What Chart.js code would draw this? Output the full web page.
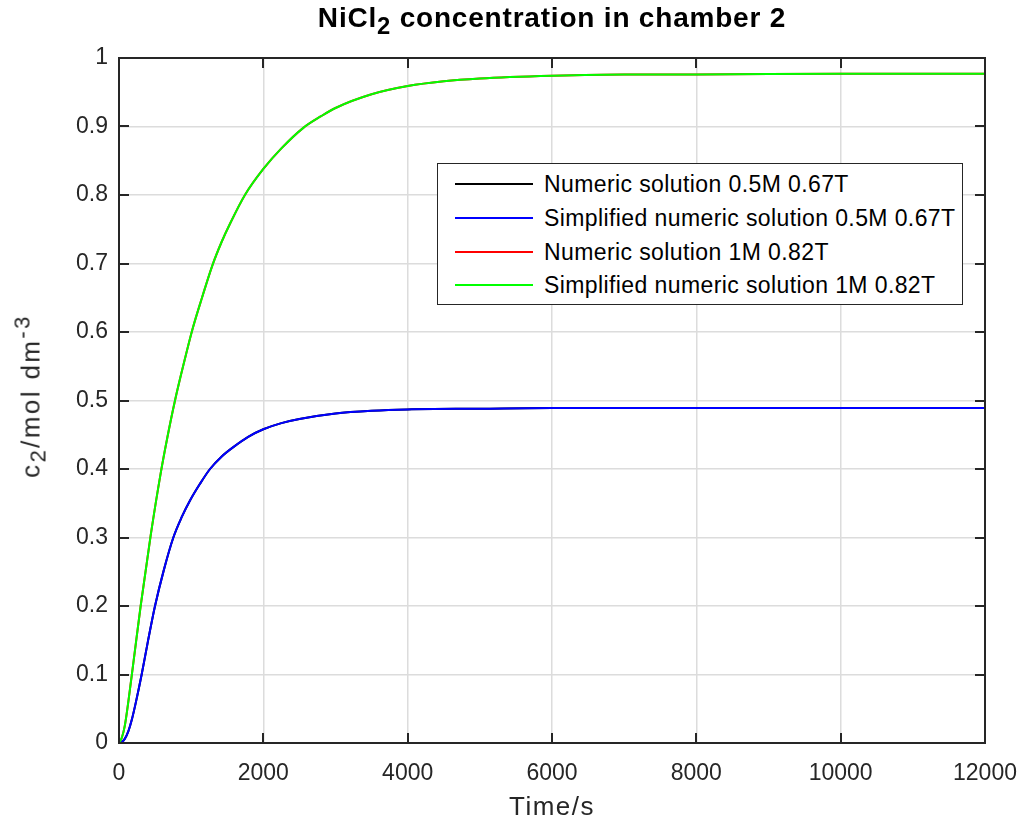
<!DOCTYPE html>
<html>
<head>
<meta charset="utf-8">
<script src="https://cdn.jsdelivr.net/npm/chart.js@4.4.1/dist/chart.umd.min.js"></script>
<style>
  html, body { margin: 0; padding: 0; background: #fff; }
  #wrap { position: relative; width: 1026px; height: 831px; font-family: "Liberation Sans", Arial, sans-serif; color: #262626; }
  #chart { position: absolute; left: 0; top: 0; }
  .title { position: absolute; left: 119px; width: 866px; top: 2px; text-align: center; font-weight: bold; font-size: 28px; letter-spacing: 0.8px; color: #000; }
  .xt { position: absolute; left: 119px; width: 866px; top: 791px; text-align: center; font-size: 26px; letter-spacing: 1.5px; }
  .yt { position: absolute; left: 31px; top: 396px; transform: translate(-50%, -50%) rotate(-90deg); font-size: 26px; letter-spacing: 2.4px; white-space: nowrap; }
  sub, sup { font-size: 0.85em; line-height: 0; }
  .legend { position: absolute; left: 437px; top: 163px; width: 526px; height: 142px; box-sizing: border-box; border: 1.5px solid #262626; background: #fff; }
  .legend .row { position: absolute; left: 0; right: 0; height: 28px; line-height: 28px; font-size: 23px; letter-spacing: 0.4px; color: #000; }
  .legend .swatch { position: absolute; left: 17px; width: 78px; top: 13px; height: 2px; }
  .legend .txt { position: absolute; left: 106px; top: 0; white-space: nowrap; }
</style>
</head>
<body>
<div id="wrap">
  <canvas id="chart" width="1026" height="831"></canvas>
  <div class="title">NiCl<sub>2</sub> concentration in chamber 2</div>
  <div class="xt">Time/s</div>
  <div class="yt">c<sub>2</sub>/mol dm<sup>-3</sup></div>
  <div class="legend" id="legend"></div>
</div>
<script>
  // 0.5M 0.67T run (numeric and simplified overlap)
  var timeLow = [0, 30, 80, 129, 180, 235, 314, 400, 499, 620, 753, 870, 984, 1120, 1261, 1420, 1584, 1790, 2000, 2250, 2500, 3000, 3500, 4000, 5000, 6000, 8000, 10000, 12000];
  var concLow = [0, 0.001, 0.006, 0.017, 0.035, 0.06, 0.1, 0.148, 0.2, 0.252, 0.3, 0.33, 0.354, 0.378, 0.4, 0.418, 0.432, 0.447, 0.458, 0.467, 0.473, 0.481, 0.485, 0.487, 0.488, 0.489, 0.489, 0.489, 0.489];

  // 1M 0.82T run (numeric and simplified overlap)
  var timeHigh = [0, 40, 80, 176, 300, 439, 578, 670, 776, 900, 1021, 1150, 1293, 1420, 1538, 1745, 2000, 2250, 2554, 2800, 3000, 3500, 4000, 4500, 5000, 6000, 7000, 8000, 10000, 12000];
  var concHigh = [0, 0.008, 0.025, 0.098, 0.2, 0.303, 0.394, 0.446, 0.5, 0.555, 0.605, 0.65, 0.697, 0.731, 0.758, 0.8, 0.838, 0.868, 0.898, 0.915, 0.927, 0.947, 0.959, 0.966, 0.97, 0.974, 0.976, 0.976, 0.977, 0.977];

  var seriesNames = ["Numeric solution 0.5M 0.67T", "Simplified numeric solution 0.5M 0.67T", "Numeric solution 1M 0.82T", "Simplified numeric solution 1M 0.82T"];
  var seriesColors = ["#000000", "#0000ff", "#ff0000", "#00ff00"];
  var seriesTimes = [timeLow, timeLow, timeHigh, timeHigh];
  var seriesConc = [concLow, concLow, concHigh, concHigh];

  var font = "'Liberation Sans', Arial, sans-serif";

  function pts(t, c) { return t.map(function (x, i) { return { x: x, y: c[i] }; }); }

  /* ---------- box + inward ticks (matlab style) ---------- */
  var boxPlugin = {
    id: "box",
    afterDatasetsDraw: function (chart) {
      var a = chart.chartArea, ctx = chart.ctx, xs = chart.scales.x, ys = chart.scales.y;
      ctx.save();
      ctx.strokeStyle = "#262626";
      ctx.lineWidth = 2;
      ctx.beginPath();
      xs.ticks.forEach(function (t) {
        var px = Math.round(xs.getPixelForValue(t.value));
        ctx.moveTo(px, a.bottom); ctx.lineTo(px, a.bottom - 10);
        ctx.moveTo(px, a.top); ctx.lineTo(px, a.top + 10);
      });
      ys.ticks.forEach(function (t) {
        var py = Math.round(ys.getPixelForValue(t.value));
        ctx.moveTo(a.left, py); ctx.lineTo(a.left + 10, py);
        ctx.moveTo(a.right, py); ctx.lineTo(a.right - 10, py);
      });
      ctx.stroke();
      ctx.strokeRect(a.left, a.top, a.right - a.left, a.bottom - a.top);
      ctx.restore();
    }
  };

  new Chart(document.getElementById("chart"), {
    type: "line",
    data: {
      datasets: seriesNames.map(function (n, i) {
        return {
          label: n,
          data: pts(seriesTimes[i], seriesConc[i]),
          borderColor: seriesColors[i],
          backgroundColor: seriesColors[i],
          borderWidth: 2,
          pointRadius: 0,
          cubicInterpolationMode: "monotone",
          order: 3 - i
        };
      })
    },
    options: {
      responsive: false,
      animation: false,
      devicePixelRatio: 1,
      layout: { padding: { top: 58, right: 41, left: 0, bottom: 0 } },
      plugins: { legend: { display: false }, tooltip: { enabled: false } },
      scales: {
        x: {
          type: "linear", min: 0, max: 12000,
          afterFit: function (s) { s.height = 88; s.paddingLeft = 0; s.paddingRight = 0; },
          grid: { color: "#dcdcdc", lineWidth: 1.5, drawTicks: false },
          border: { display: false },
          ticks: {
            stepSize: 2000, padding: 17, maxRotation: 0, autoSkip: false, color: "#262626", font: { family: font, size: 23 },
            callback: function (v) { return String(v); }
          }
        },
        y: {
          min: 0, max: 1,
          afterFit: function (s) { s.width = 119; s.paddingTop = 0; s.paddingBottom = 0; },
          grid: { color: "#dcdcdc", lineWidth: 1.5, drawTicks: false },
          border: { display: false },
          ticks: {
            stepSize: 0.1, padding: 11, autoSkip: false, color: "#262626", font: { family: font, size: 23 },
            callback: function (v) { return String(Math.round(v * 10) / 10); }
          }
        }
      }
    },
    plugins: [boxPlugin]
  });

  /* ---------- legend ---------- */
  var rowTops = [6, 40, 74, 107];
  document.getElementById("legend").innerHTML = seriesNames.map(function (n, i) {
    return '<div class="row" style="top:' + rowTops[i] + 'px"><span class="swatch" style="background:' + seriesColors[i] +
      '"></span><span class="txt">' + n + "</span></div>";
  }).join("");
</script>
</body>
</html>
